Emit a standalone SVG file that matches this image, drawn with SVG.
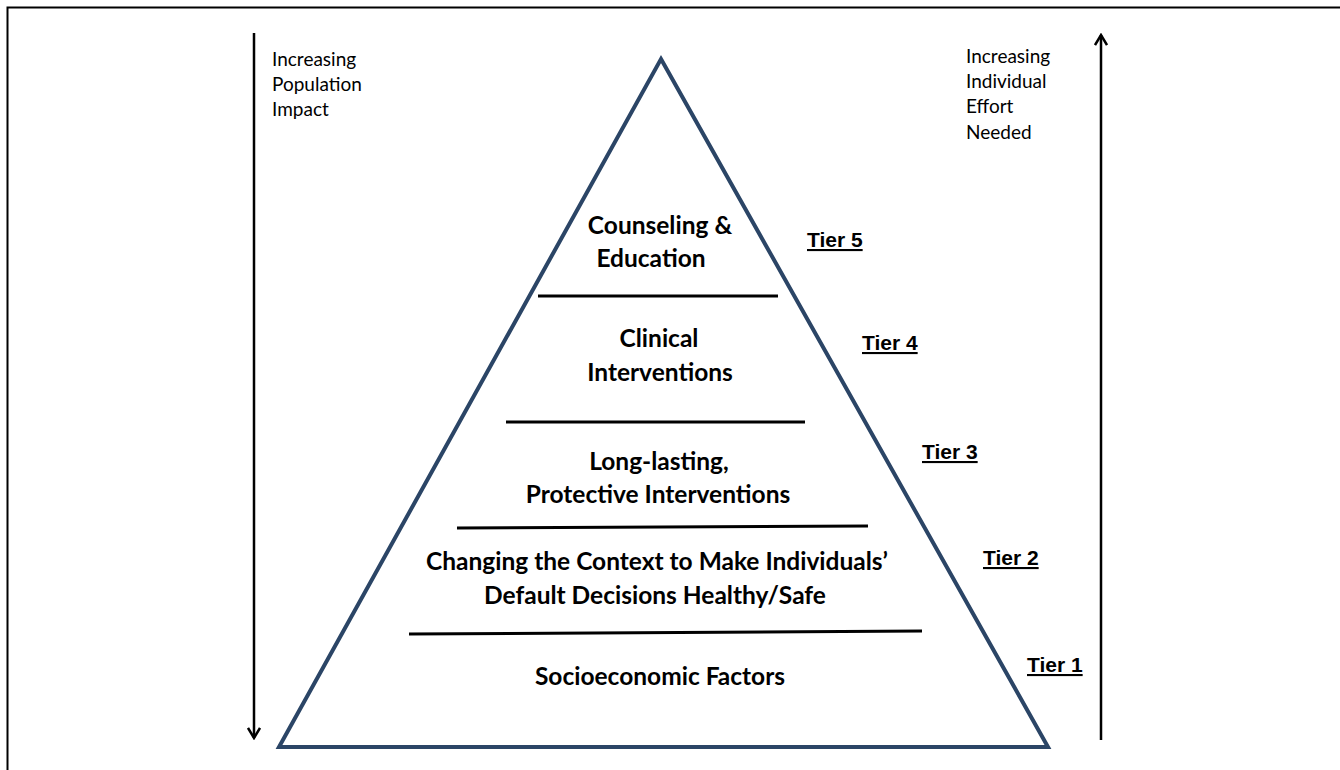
<svg xmlns="http://www.w3.org/2000/svg" width="1340" height="770" viewBox="0 0 1340 770">
<defs>
<style>
.frame{stroke:#000;stroke-width:2;fill:none}
.pyr{stroke:#2b4566;stroke-width:4;fill:none;stroke-linejoin:miter}
.div{stroke:#000;stroke-width:3;fill:none}
.ax{stroke:#000;stroke-width:2.5;fill:none}
.lvl{font-family:Lato,"Open Sans",sans-serif;font-weight:bold;font-size:24.5px;fill:#000;text-anchor:middle}
.side{font-family:Lato,"Open Sans",sans-serif;font-size:19px;fill:#000}
.tier{font-family:"Liberation Sans",Arial,sans-serif;font-weight:bold;font-size:21px;fill:#000;text-decoration:underline}
</style>
<marker id="ah" viewBox="0 0 14 14" refX="12" refY="7" markerWidth="14" markerHeight="14" markerUnits="userSpaceOnUse" orient="auto">
<path d="M2,1 L12,7 L2,13" fill="none" stroke="#000" stroke-width="2.5"/>
</marker>
</defs>
<rect width="1340" height="770" fill="#fff"/>
<path class="frame" d="M7.5,770 V7.5 H1340"/>
<g id="connectors">
<line class="ax" x1="254" y1="33" x2="254" y2="738" marker-end="url(#ah)"/>
<line class="ax" x1="1101" y1="740" x2="1101" y2="35" marker-end="url(#ah)"/>
</g>
<g id="pyramid">
<polygon class="pyr" points="661,59 1048,747 279,747"/>
<line class="div" x1="538" y1="296" x2="778" y2="296"/>
<line class="div" x1="506" y1="422" x2="805" y2="422"/>
<line class="div" x1="457" y1="528" x2="868" y2="526"/>
<line class="div" x1="409" y1="634" x2="922" y2="631"/>
</g>
<g id="tier5"><text class="lvl" x="660" y="234">Counseling &amp;</text><text class="lvl" x="651" y="267">Education</text></g>
<g id="tier4"><text class="lvl" x="659" y="347">Clinical</text><text class="lvl" x="660" y="381">Interventions</text></g>
<g id="tier3"><text class="lvl" x="659" y="470">Long-lasting,</text><text class="lvl" x="658" y="503">Protective  Interventions</text></g>
<g id="tier2"><text class="lvl" x="657" y="570">Changing the Context to Make Individuals’</text><text class="lvl" x="655" y="604">Default Decisions Healthy/Safe</text></g>
<g id="tier1"><text class="lvl" x="660" y="685">Socioeconomic Factors</text></g>
<g id="label-left"><text class="side" x="272" y="66">Increasing</text><text class="side" x="272" y="91">Population</text><text class="side" x="272" y="116">Impact</text></g>
<g id="label-right"><text class="side" x="966" y="63">Increasing</text><text class="side" x="966" y="88">Individual</text><text class="side" x="966" y="113">Effort</text><text class="side" x="966" y="139">Needed</text></g>
<g id="tier-labels">
<text class="tier" x="807" y="247">Tier 5</text>
<text class="tier" x="862" y="350">Tier 4</text>
<text class="tier" x="922" y="459">Tier 3</text>
<text class="tier" x="983" y="565">Tier 2</text>
<text class="tier" x="1027" y="672">Tier 1</text>
</g>
</svg>
